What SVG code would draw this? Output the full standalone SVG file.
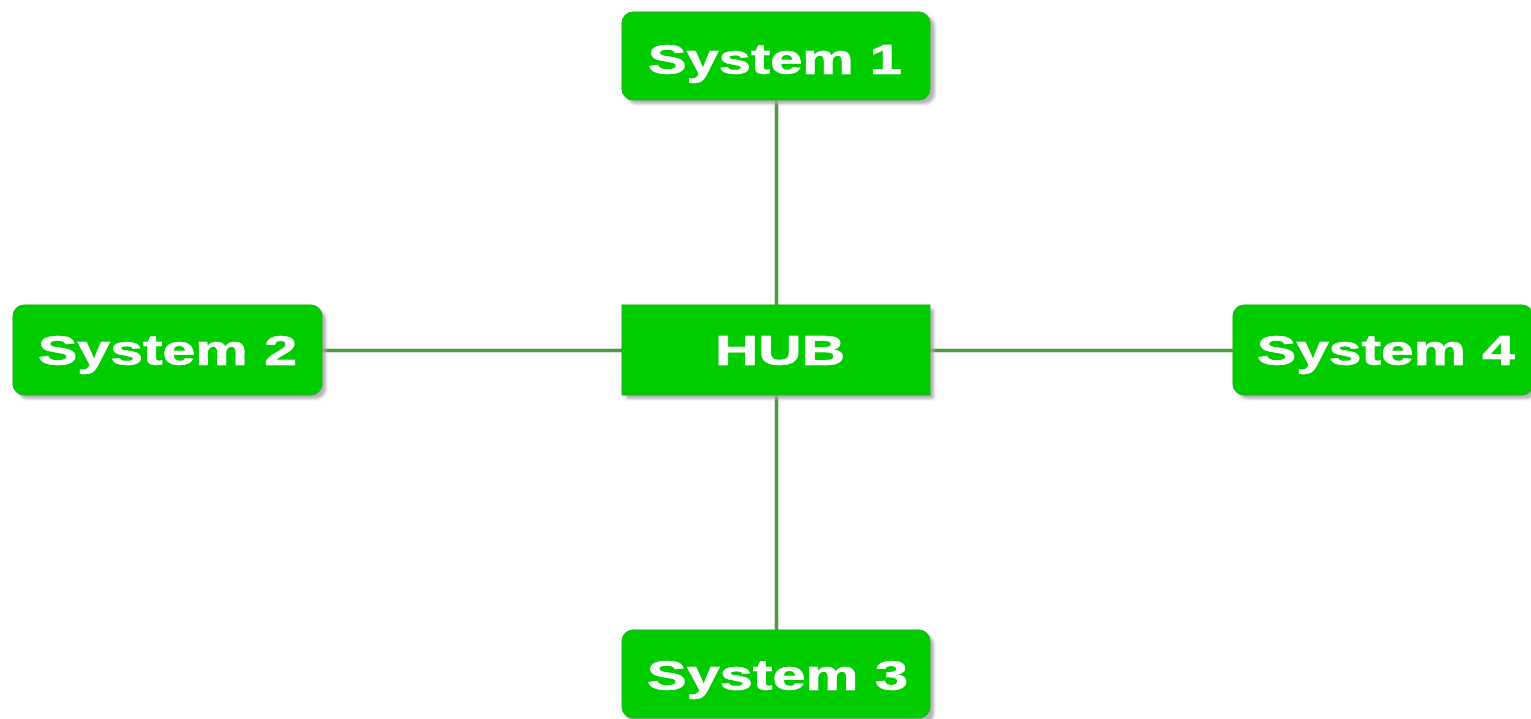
<svg xmlns="http://www.w3.org/2000/svg" width="1531" height="719" viewBox="0 0 1531 719">
  <style>
    .edge { stroke: #4a9a44; stroke-width: 3.5; fill: none; }
    .box { fill: #00cc00; stroke: #22b022; stroke-width: 1; }
    .shadow { fill: #a8a8a8; opacity: 0.85; }
    .label { fill: #ffffff; font-family: "Liberation Sans", Arial, sans-serif; font-weight: bold; font-size: 42px; stroke: #ffffff; stroke-width: 0.6; }
  </style>
  <defs>
    <filter id="soft" x="-10%" y="-10%" width="120%" height="130%">
      <feGaussianBlur stdDeviation="1.5"/>
    </filter>
  </defs>
  <rect width="1531" height="719" fill="#ffffff"/>

  <!-- connectors: star from the hub -->
  <g id="connectors">
    <line class="edge" x1="776.5" y1="100" x2="776.5" y2="306"/>
    <line class="edge" x1="776.5" y1="395" x2="776.5" y2="630"/>
    <line class="edge" x1="322" y1="350.5" x2="622" y2="350.5"/>
    <line class="edge" x1="930" y1="350.5" x2="1233" y2="350.5"/>
  </g>

  <g id="system1">
    <rect class="shadow" filter="url(#soft)" x="626" y="16" width="309" height="88" rx="11"/>
    <rect class="box" x="622" y="12" width="308" height="88" rx="11"/>
    <text class="label" x="648" y="74" textLength="254" lengthAdjust="spacingAndGlyphs">System 1</text>
  </g>

  <g id="system2">
    <rect class="shadow" filter="url(#soft)" x="17" y="309" width="309" height="90" rx="11"/>
    <rect class="box" x="13" y="305" width="309" height="90" rx="11"/>
    <text class="label" x="38" y="365" textLength="259" lengthAdjust="spacingAndGlyphs">System 2</text>
  </g>

  <g id="hub">
    <rect class="shadow" filter="url(#soft)" x="626" y="309" width="308" height="90"/>
    <rect class="box" x="622" y="305" width="308" height="90"/>
    <text class="label" x="715" y="365" textLength="130" lengthAdjust="spacingAndGlyphs">HUB</text>
  </g>

  <g id="system4">
    <rect class="shadow" filter="url(#soft)" x="1237" y="309" width="300" height="90" rx="11"/>
    <rect class="box" x="1233" y="305" width="300" height="90" rx="11"/>
    <text class="label" x="1257" y="365" textLength="258" lengthAdjust="spacingAndGlyphs">System 4</text>
  </g>

  <g id="system3">
    <rect class="shadow" filter="url(#soft)" x="626" y="634" width="308" height="90" rx="11"/>
    <rect class="box" x="622" y="630" width="308" height="88" rx="11"/>
    <text class="label" x="647" y="690" textLength="261" lengthAdjust="spacingAndGlyphs">System 3</text>
  </g>
</svg>
